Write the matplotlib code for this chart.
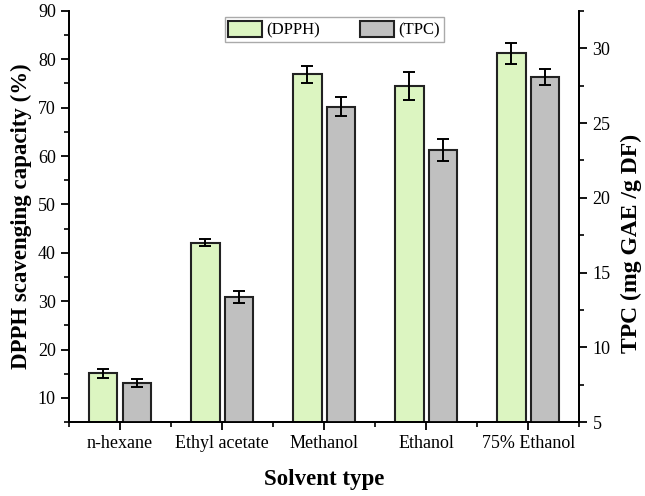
import numpy as np
import matplotlib
matplotlib.use("Agg")
import matplotlib.pyplot as plt
from matplotlib.ticker import MultipleLocator

plt.rcParams['font.family'] = ['Liberation Serif', 'DejaVu Serif']

solvents = ["n-hexane", "Ethyl acetate", "Methanol", "Ethanol", "75% Ethanol"]
dpph = [15.1, 42.1, 76.9, 74.5, 81.2]
dpph_err = [0.9, 0.8, 1.7, 2.9, 2.1]
tpc = [7.6, 13.35, 26.1, 23.2, 28.1]
tpc_err = [0.28, 0.41, 0.61, 0.73, 0.53]

x = np.arange(len(solvents))
width = 0.28
offset = 0.165

fig, ax1 = plt.subplots(figsize=(6.45, 4.96), dpi=100)
fig.subplots_adjust(left=0.107, right=0.898, bottom=0.149, top=0.978)
ax2 = ax1.twinx()

err_style = dict(ecolor="black", elinewidth=1.4, capsize=4, capthick=1.4)
b1 = ax1.bar(x - offset, dpph, width, bottom=0, color="#dcf5c1", edgecolor="#222222",
             linewidth=1.5, yerr=dpph_err, error_kw=err_style, label="(DPPH)", zorder=2)
b2 = ax2.bar(x + offset, tpc, width, bottom=0, color="#c0c0c0", edgecolor="#222222",
             linewidth=1.5, yerr=tpc_err, error_kw=err_style, label="(TPC)", zorder=2)

ax1.set_xlim(-0.5, 4.5)
ax1.set_ylim(5, 90)
ax2.set_ylim(5, 32.5)

ax1.set_xticks(x)
ax1.set_xticklabels(solvents, fontsize=13)
ax1.xaxis.set_minor_locator(MultipleLocator(0.5))
ax1.yaxis.set_minor_locator(MultipleLocator(5))
ax2.yaxis.set_minor_locator(MultipleLocator(2.5))
ax1.set_yticks(np.arange(10, 91, 10))
ax2.set_yticks(np.arange(5, 31, 5))

for ax in (ax1, ax2):
    ax.spines["top"].set_visible(False)
    for s in ax.spines.values():
        s.set_linewidth(1.3)
    ax.tick_params(which="major", length=6, width=1.3, labelsize=13)
    ax.tick_params(which="minor", length=3.5, width=1.2)

ax1.set_xlabel("Solvent type", fontsize=16.5, fontweight="bold", labelpad=12)
ax1.set_ylabel("DPPH scavenging capacity (%)", fontsize=16.5, fontweight="bold", labelpad=4)
ax2.set_ylabel("TPC (mg GAE /g DF)", fontsize=17, fontweight="bold", labelpad=8)
ax2.yaxis.set_label_coords(1.082, 0.435)

leg = ax1.legend([b1, b2], ["(DPPH)", "(TPC)"], loc="upper center", bbox_to_anchor=(0.52, 1.005),
                 ncol=2, fontsize=12, frameon=True, fancybox=False, edgecolor="#aaaaaa",
                 handlelength=2.0, handleheight=1.1, columnspacing=2.4, handletextpad=0.3,
                 borderpad=0.2, framealpha=1)
leg.get_frame().set_linewidth(1.0)
leg.set_zorder(5)

plt.savefig("out.png", dpi=100)
